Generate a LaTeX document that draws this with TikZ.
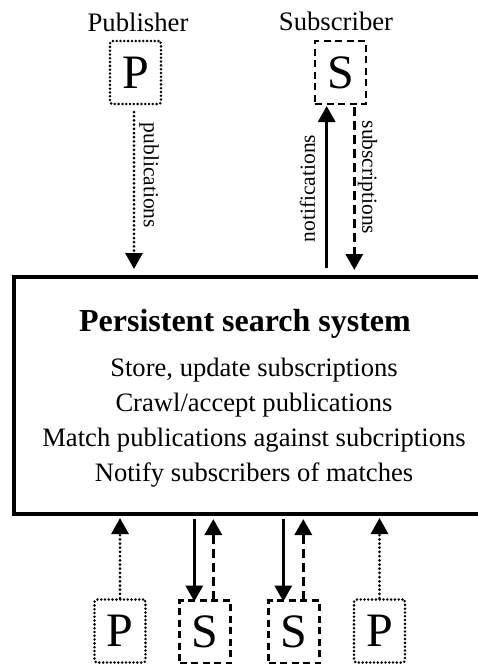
\documentclass[tikz,border=0pt]{standalone}
\usepackage{fontspec}
\setmainfont{Liberation Serif}
\usetikzlibrary{arrows.meta,calc}
\begin{document}
\begin{tikzpicture}[x=1pt,y=-1pt,
  box/.style={minimum width=51pt,minimum height=63pt,inner sep=0pt,line width=2.8pt,
    font=\fontsize{48}{48}\selectfont},
  pbox/.style={box,draw,dash pattern=on 0pt off 3.8pt,line cap=round,rounded corners=2.5pt},
  sbox/.style={box,draw,dash pattern=on 7pt off 4.5pt},
  who/.style={font=\fontsize{26.7}{26.7}\selectfont,anchor=base},
  line/.style={font=\fontsize{26.6}{26.6}\selectfont,anchor=base},
  lab/.style={font=\fontsize{21.5}{21.5}\selectfont,inner sep=0pt},
  tip/.style={-{Triangle[width=17pt,length=16pt]}},
  dotarrow/.style={tip,line width=3pt,dash pattern=on 0pt off 4.2pt,line cap=round},
  dasharrow/.style={tip,line width=3.2pt,dash pattern=on 9pt off 5pt},
  solidarrow/.style={tip,line width=3.2pt}]
\useasboundingbox (0,0) rectangle (478,664);
\clip (0,0) rectangle (478,664);

% main system box
\node[draw,line width=4pt,minimum width=480pt,minimum height=237pt,anchor=north west,inner sep=0pt] (sys) at (12,275) {};
\node[font=\fontsize{32}{32}\selectfont\bfseries,anchor=base] (title) at (245,331) {Persistent search system};
\node[line] (l1) at (254,376.7) {Store, update subscriptions};
\node[line] (l2) at (254,411.7) {Crawl/accept publications};
\node[line] (l3) at (254,446) {Match publications against subcriptions};
\node[line] (l4) at (254,481.7) {Notify subscribers of matches};

% top publisher / subscriber
\node[pbox] (pub) at (135.5,72.5) {P};
\node[who] (publbl) at (138,31.5) {Publisher};
\node[sbox] (sub) at (340.5,72.5) {S};
\node[who] (sublbl) at (336,30.5) {Subscriber};

\coordinate (pa1) at (134,112);
\coordinate (pa2) at (134,269);
\draw[dotarrow] (pa1) -- (pa2);
\node[lab,rotate=-90] (publab) at (149,175.5) {publications};

\coordinate (na1) at (326.7,268);
\coordinate (na2) at (326.7,106);
\draw[solidarrow] (na1) -- (na2);
\node[lab,rotate=90] (notlab) at (307.5,188.5) {notifications};

\coordinate (sa1) at (354.3,107);
\coordinate (sa2) at (354.3,270);
\draw[dasharrow] (sa1) -- (sa2);
\node[lab,rotate=-90] (sublab) at (367.5,177.5) {subscriptions};

% bottom row
\node[pbox] (p1) at (120,631) {P};
\node[sbox] (s1) at (205,632) {S};
\node[sbox] (s2) at (294,632) {S};
\node[pbox] (p2) at (379.5,631) {P};

\draw[dotarrow] (p1.north) -- (120,518);
\draw[solidarrow] (194.3,519) -- (194.3,601.5);
\draw[dasharrow] (213.3,600) -- (213.3,519);
\draw[solidarrow] (283.3,519) -- (283.3,601.5);
\draw[dasharrow] (303.3,600) -- (303.3,519);
\draw[dotarrow] (p2.north) -- (379.5,518);
\end{tikzpicture}
\end{document}
